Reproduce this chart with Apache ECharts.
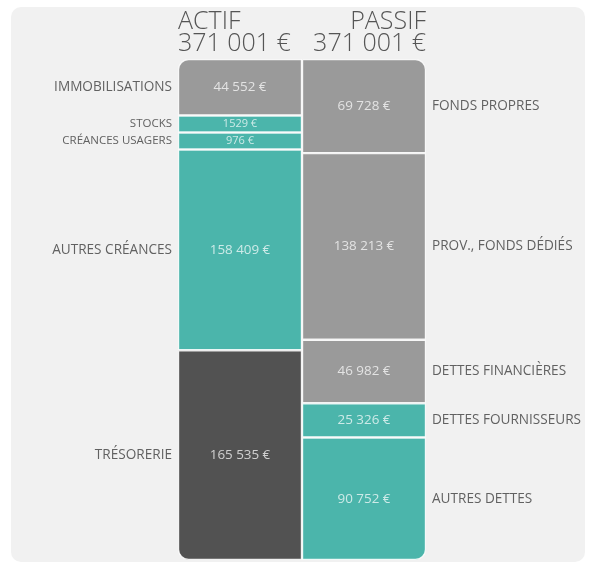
<!DOCTYPE html>
<html><head><meta charset="utf-8">
<script src="https://cdn.jsdelivr.net/npm/echarts@6/dist/echarts.min.js"></script>
<style>html,body{margin:0;padding:0;background:#fff;}#c{width:591px;height:564px;}</style>
</head><body><div id="c"></div>
<script>
const categories = ['ACTIF', 'PASSIF'];
const totalLabels = ['371 001 €', '371 001 €'];
const actifNames = ['IMMOBILISATIONS', 'STOCKS', 'CRÉANCES USAGERS', 'AUTRES CRÉANCES', 'TRÉSORERIE'];
const actifValues = [44552, 1529, 976, 158409, 165535];
const passifNames = ['FONDS PROPRES', 'PROV., FONDS DÉDIÉS', 'DETTES FINANCIÈRES', 'DETTES FOURNISSEURS', 'AUTRES DETTES'];
const passifValues = [69728, 138213, 46982, 25326, 90752];

// styles
const GRAY = '#9a9a9a', TEAL = '#4bb5ab', DARK = '#525252';
const actifColors = [GRAY, TEAL, TEAL, TEAL, DARK];
const passifColors = [GRAY, GRAY, GRAY, TEAL, TEAL];
const FONT = '"Open Sans", "Noto Sans", sans-serif';
const minShare = 0.034; // minimal visible share of a column for tiny items

function displayShares(values) {
  const total = values.reduce((a, b) => a + b, 0);
  const small = values.map(v => v / total < minShare);
  const nSmall = small.filter(Boolean).length;
  const restTotal = values.filter((v, i) => !small[i]).reduce((a, b) => a + b, 0);
  return values.map((v, i) => small[i] ? minShare : v / restTotal * (1 - nSmall * minShare));
}
function fmt(v) {
  const s = v >= 10000 ? String(v).replace(/\B(?=(\d{3})+(?!\d))/g, ' ') : String(v);
  return s + ' €';
}
const aShares = displayShares(actifValues);
const pShares = displayShares(passifValues);
const R = 10;
const last = actifValues.length - 1;

function radius(col, i) {
  if (col === 0) return i === 0 ? [R, 0, 0, 0] : (i === last ? [0, 0, 0, R] : 0);
  return i === 0 ? [0, R, 0, 0] : (i === last ? [0, 0, R, 0] : 0);
}
function isSmall(values, i) {
  const t = values.reduce((a, b) => a + b, 0);
  return values[i] / t < minShare;
}

const series = [];
for (let i = 0; i < actifValues.length; i++) {
  const mk = (col, share, val, color, values) => ({
    value: share,
    itemStyle: { color: color, borderRadius: radius(col, i) },
    label: { formatter: fmt(val), fontSize: isSmall(values, i) ? 11 : 13.4 }
  });
  series.push({
    type: 'bar', stack: 'seg', barWidth: 124, barGap: '-100%', silent: true,
    itemStyle: { borderColor: 'rgba(255,255,255,0.85)', borderWidth: 1.2 },
    label: { show: true, position: 'inside', color: 'rgba(255,255,255,0.72)', fontFamily: FONT },
    data: [mk(0, aShares[i], actifValues[i], actifColors[i], actifValues),
           mk(1, pShares[i], passifValues[i], passifColors[i], passifValues)]
  });
}
for (let i = 0; i < actifValues.length; i++) {
  series.push({
    type: 'bar', stack: 'names', barWidth: 124, barGap: '-100%', silent: true, z: 1,
    itemStyle: { color: 'rgba(0,0,0,0)' },
    label: { show: true, color: '#616161', fontFamily: FONT, distance: 6 },
    data: [
      { value: aShares[i], label: { position: 'left', formatter: actifNames[i], fontSize: isSmall(actifValues, i) ? 11.5 : 13.6 } },
      { value: pShares[i], label: { position: 'right', formatter: passifNames[i], fontSize: isSmall(passifValues, i) ? 11.5 : 13.6 } }
    ]
  });
}

const titleStyle = { font: '300 25px ' + FONT, fill: '#555' };
const chart = echarts.init(document.getElementById('c'), null, { renderer: 'canvas' });
chart.setOption({
  backgroundColor: '#ffffff',
  animation: false,
  graphic: [
    { type: 'rect', z: -10, silent: true, shape: { x: 11, y: 7, width: 574, height: 555, r: 10 }, style: { fill: '#f1f1f1' } },
    { type: 'text', left: 178, top: 9, silent: true, style: Object.assign({ text: categories[0] }, titleStyle) },
    { type: 'text', left: 178, top: 31, silent: true, style: Object.assign({ text: totalLabels[0] }, titleStyle) },
    { type: 'text', right: 165, top: 9, silent: true, style: Object.assign({ text: categories[1] }, titleStyle) },
    { type: 'text', right: 165, top: 31, silent: true, style: Object.assign({ text: totalLabels[1] }, titleStyle) }
  ],
  grid: { left: 178, right: 165, top: 59, bottom: 4 },
  xAxis: { type: 'category', data: categories, show: false },
  yAxis: { type: 'value', min: 0, max: 1, inverse: true, show: false },
  series: series
});
</script></body></html>
